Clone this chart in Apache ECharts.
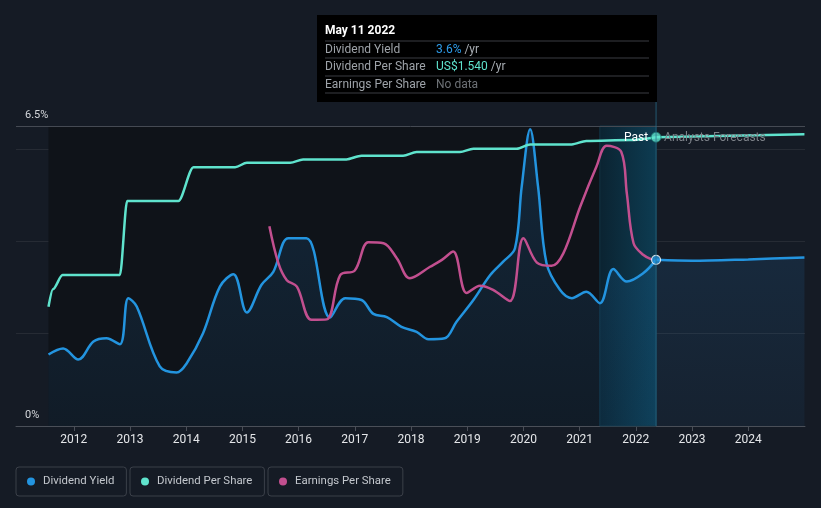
<!DOCTYPE html>
<html><head><meta charset="utf-8">
<script src="https://cdn.jsdelivr.net/npm/echarts@6/dist/echarts.min.js"></script>
<style>html,body{margin:0;padding:0;background:#151b25;}#c{width:821px;height:508px;}</style>
</head><body><div id="c"></div>
<script>
// ---- data ----
const yearTicks = [2012,2013,2014,2015,2016,2017,2018,2019,2020,2021,2022,2023,2024];
const yTickLabels = [0, 6.5];
// Dividend yield (%)
const yieldX = [2011.55,2011.81,2012.08,2012.35,2012.58,2012.82,2012.97,2013.12,2013.53,2013.83,2014.01,2014.30,2014.60,2014.84,2015.08,2015.34,2015.55,2015.82,2016.14,2016.56,2016.83,2017.12,2017.33,2017.57,2017.83,2018.10,2018.31,2018.60,2018.81,2019.11,2019.41,2019.64,2019.85,2019.97,2020.12,2020.26,2020.41,2020.65,2020.86,2021.12,2021.36,2021.60,2021.84,2022.13,2022.36];
const yieldY = [1.55,1.68,1.44,1.83,1.90,1.77,2.77,2.59,1.29,1.16,1.36,2.01,3.02,3.29,2.46,3.06,3.34,4.07,4.07,2.35,2.77,2.73,2.43,2.36,2.15,2.04,1.88,1.90,2.26,2.73,3.27,3.56,3.85,5.19,6.43,5.19,3.53,2.95,2.77,2.91,2.66,3.40,3.13,3.31,3.60];
const yieldFcX = [2022.36,2023.0,2024.0,2025.0];
const yieldFcY = [3.60,3.58,3.61,3.65];
// Dividend per share (US$)
const dpsX = [2011.55,2011.63,2011.80,2012.82,2012.95,2013.86,2014.13,2014.87,2015.08,2015.85,2016.08,2016.85,2017.12,2017.86,2018.10,2018.87,2019.11,2019.88,2020.12,2020.86,2021.12,2021.90,2022.36];
const dpsY = [0.636,0.73,0.805,0.805,1.20,1.20,1.38,1.38,1.404,1.404,1.422,1.422,1.442,1.442,1.461,1.461,1.479,1.479,1.502,1.502,1.52,1.525,1.54];
const dpsFcX = [2022.36,2025.0];
const dpsFcY = [1.54,1.556];
// Earnings per share
const epsX = [2015.48,2015.64,2015.79,2015.97,2016.23,2016.50,2016.74,2017.00,2017.24,2017.51,2017.75,2017.98,2018.34,2018.55,2018.75,2018.99,2019.23,2019.46,2019.76,2020.00,2020.24,2020.50,2020.71,2021.01,2021.30,2021.48,2021.74,2021.84,2021.96,2022.13,2022.28];
const epsY = [2.165,1.765,1.58,1.51,1.15,1.155,1.635,1.685,1.99,1.98,1.815,1.6,1.725,1.8,1.89,1.44,1.52,1.475,1.355,2.035,1.77,1.735,1.87,2.375,2.81,3.035,2.97,2.52,1.98,1.855,1.805];
const nowX = 2022.36, nowYield = 3.6, nowDps = 1.54;
const pastStartX = 2021.36;

const zip = (a, b) => a.map((v, i) => [v, b[i]]);
const C_BLUE = '#2394df', C_TEAL = '#5fe3cd', C_PINK = '#c24f8f';

const chart = echarts.init(document.getElementById('c'));
const font = 'Roboto, "Noto Sans", sans-serif';
const legendBase = {
  top: 467, icon: 'circle', itemWidth: 8, itemHeight: 8,
  padding: [9, 12, 9, 11], borderColor: '#3b4049', borderWidth: 1, borderRadius: 3,
  textStyle: { color: '#c3c7cd', fontSize: 11.4, fontFamily: font, padding: [0, 0, 0, 3] },
  selectedMode: false
};
chart.setOption({
  backgroundColor: '#151b25',
  animation: false,
  grid: { left: 16, right: 16, top: 126, bottom: 82 },
  legend: [
    Object.assign({}, legendBase, { left: 16, data: ['Dividend Yield'] }),
    Object.assign({}, legendBase, { left: 130, data: ['Dividend Per Share'] }),
    Object.assign({}, legendBase, { left: 268, data: ['Earnings Per Share'] })
  ],
  xAxis: {
    type: 'value', min: 2010.972, max: 2025.01,
    axisLine: { lineStyle: { color: '#4a4f58', width: 1 } },
    axisTick: { show: true, length: 5, customValues: yearTicks, lineStyle: { color: '#4a4f58' } },
    axisLabel: { customValues: yearTicks, color: '#e4e6e9', fontSize: 12, fontFamily: font, margin: 8, formatter: v => String(v) },
    splitLine: { show: false }
  },
  yAxis: [
    { type: 'value', min: 0, max: 6.5, interval: 2,
      axisLine: { show: false }, axisTick: { show: false },
      axisLabel: { inside: true, customValues: yTickLabels, margin: 9, verticalAlign: 'bottom', padding: [0, 0, 5, 0],
        color: '#d5d8dc', fontSize: 11, fontFamily: font, formatter: v => v + '%' },
      splitLine: { lineStyle: { color: '#262b34', width: 1 } } },
    { type: 'value', min: 0, max: 1.6, show: false },
    { type: 'value', min: 0, max: 3.25, show: false }
  ],
  series: [
    { name: 'Dividend Yield', type: 'line', yAxisIndex: 0, data: zip(yieldX, yieldY),
      smooth: 0.35, showSymbol: false, symbol: 'circle', itemStyle: { color: C_BLUE },
      lineStyle: { color: C_BLUE, width: 2.5 },
      areaStyle: { color: new echarts.graphic.LinearGradient(0, 0, 0, 1, [
        { offset: 0, color: 'rgba(35,120,190,0.28)' }, { offset: 1, color: 'rgba(35,120,190,0.12)' }]) },
      markArea: { silent: true, z: 1, data: [
        [{ xAxis: yieldX[0], itemStyle: { color: '#0f1319' } }, { xAxis: pastStartX }],
        [{ xAxis: pastStartX, itemStyle: { color: new echarts.graphic.LinearGradient(0, 0, 1, 0, [
          { offset: 0, color: '#0b2331' }, { offset: 1, color: '#0d3c52' }]), borderColor: '#123445', borderWidth: 1 } },
         { xAxis: nowX }]
      ] },
      markLine: { silent: true, symbol: 'none', label: { show: false },
        lineStyle: { color: '#454a53', type: 'solid', width: 1 }, data: [{ yAxis: 6.5 }] }
    },
    { name: 'Dividend Yield', type: 'line', yAxisIndex: 0, data: zip(yieldFcX, yieldFcY),
      smooth: 0.3, showSymbol: false, lineStyle: { color: C_BLUE, width: 2.5 },
      areaStyle: { color: new echarts.graphic.LinearGradient(0, 0, 0, 1, [
        { offset: 0, color: 'rgba(35,120,190,0.22)' }, { offset: 1, color: 'rgba(35,120,190,0.10)' }]) } },
    { name: 'Dividend Per Share', type: 'line', yAxisIndex: 1, data: zip(dpsX, dpsY),
      smooth: 0.3, smoothMonotone: 'x', showSymbol: false, symbol: 'circle', itemStyle: { color: C_TEAL },
      lineStyle: { color: C_TEAL, width: 2.5 } },
    { name: 'Dividend Per Share', type: 'line', yAxisIndex: 1, data: zip(dpsFcX, dpsFcY),
      showSymbol: false, lineStyle: { color: C_TEAL, width: 2.5 } },
    { name: 'Earnings Per Share', type: 'line', yAxisIndex: 2, data: zip(epsX, epsY),
      smooth: 0.35, showSymbol: false, symbol: 'circle', itemStyle: { color: C_PINK },
      lineStyle: { color: C_PINK, width: 2.5 } },
    { name: 'nowYield', type: 'scatter', yAxisIndex: 0, z: 10, data: [[nowX, nowYield]], symbolSize: 9,
      itemStyle: { color: C_BLUE, borderColor: '#ffffff', borderWidth: 1.2 } },
    { name: 'nowDps', type: 'scatter', yAxisIndex: 1, z: 10, data: [[nowX, nowDps]], symbolSize: 10,
      itemStyle: { color: C_TEAL, borderColor: '#1d6f6a', borderWidth: 1 } }
  ]
});

// overlay: tooltip box & labels
const pBottom = chart.convertToPixel({ xAxisIndex: 0, yAxisIndex: 0 }, [nowX, 0]);
const pDps = chart.convertToPixel({ xAxisIndex: 0, yAxisIndex: 1 }, [nowX, nowDps]);
const tipL = 317, tipT = 15, tipW = 340, tipH = 87;
const ZT = 70;
const rowLab = { fill: '#9ea3a9', fontSize: 12, fontFamily: font, verticalAlign: 'middle' };
const sep = y => ({ type: 'line', z: ZT, shape: { x1: 325, y1: y, x2: 649, y2: y }, style: { stroke: '#3a3d42', lineWidth: 1 }, silent: true });
const txt = (x, y, style) => ({ type: 'text', z: ZT, x: x, y: y, silent: true, style: style });
const richStyle = (a, colorA) => ({ text: '{a|' + a + '} {b|/yr}', verticalAlign: 'middle', fontFamily: font, fontSize: 12,
  rich: { a: { fill: colorA, fontSize: 12, fontFamily: font }, b: { fill: '#a8adb3', fontSize: 12, fontFamily: font } } });
chart.setOption({
  graphic: [
    { type: 'line', z: 50, shape: { x1: pBottom[0], y1: tipT + tipH, x2: pBottom[0], y2: pBottom[1] },
      style: { stroke: 'rgba(40,110,140,0.75)', lineWidth: 1 }, silent: true },
    { type: 'rect', z: 60, shape: { x: tipL, y: tipT, width: tipW, height: tipH }, style: { fill: '#000000' }, silent: true },
    txt(325, 31, { text: 'May 11 2022', fill: '#ffffff', fontSize: 12, fontWeight: 'bold', fontFamily: font, verticalAlign: 'middle' }),
    sep(41), sep(58), sep(76), sep(93),
    txt(325, 49.5, Object.assign({ text: 'Dividend Yield' }, rowLab)),
    txt(325, 66.5, Object.assign({ text: 'Dividend Per Share' }, rowLab)),
    txt(325, 84.5, Object.assign({ text: 'Earnings Per Share' }, rowLab)),
    txt(436, 49.5, richStyle('3.6%', '#2d9be8')),
    txt(436, 66.5, richStyle('US$1.540', '#5fe3cd')),
    txt(436, 84.5, { text: 'No data', fill: '#6d7176', fontSize: 12, fontFamily: font, verticalAlign: 'middle' }),
    { type: 'text', z: 55, x: pDps[0] - 8, y: pDps[1] + 1, style: { text: 'Past', fill: '#ffffff', fontSize: 12, fontFamily: font, align: 'right', verticalAlign: 'middle' }, silent: true },
    { type: 'text', z: 55, x: pDps[0] + 8, y: pDps[1] + 1, style: { text: 'Analysts Forecasts', fill: '#7d8289', fontSize: 12, fontFamily: font, align: 'left', verticalAlign: 'middle' }, silent: true }
  ]
});
</script></body></html>
